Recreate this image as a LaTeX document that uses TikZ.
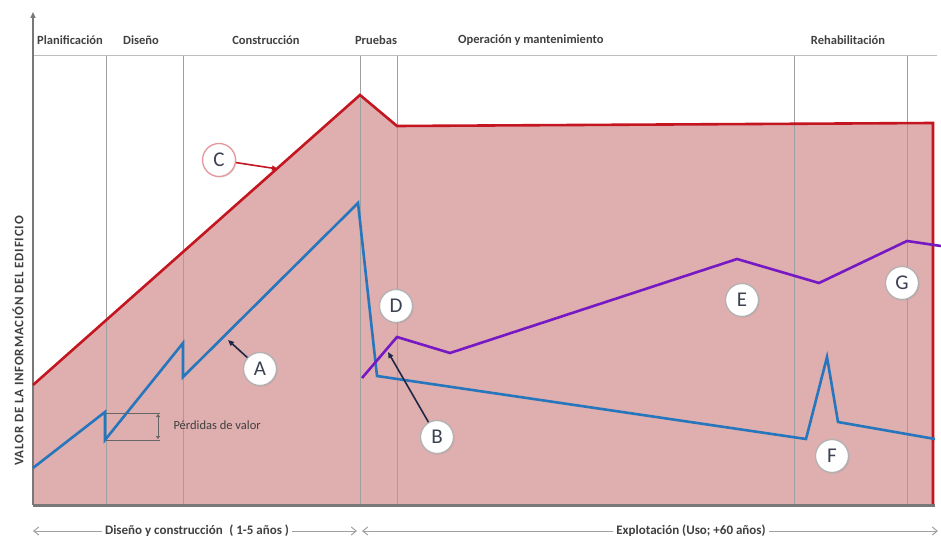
\documentclass[tikz,border=0pt]{standalone}
\usepackage{fontspec}
\setmainfont{Carlito}
\usetikzlibrary{arrows.meta,shadows}

\definecolor{areafill}{RGB}{223,174,174}
\definecolor{valred}{RGB}{196,22,32}
\definecolor{valblue}{RGB}{38,118,190}
\definecolor{valpurple}{RGB}{118,24,196}
\definecolor{gridgray}{RGB}{160,160,160}
\definecolor{axisgray}{RGB}{120,120,120}
\definecolor{labeltext}{RGB}{64,64,64}
\definecolor{calloutnavy}{RGB}{30,40,70}
\definecolor{lettertext}{RGB}{60,66,82}

\tikzset{
  phase/.style={font=\bfseries\fontsize{12.5}{14}\selectfont, text=labeltext, inner sep=0pt},
  separator/.style={draw=gridgray, line width=0.8pt},
  series/.style={line width=2.6pt, line join=miter},
  callout/.style={circle, draw=gray!60, line width=1.3pt, fill=white, minimum size=33pt,
    inner sep=0pt, font=\fontsize{21}{23}\selectfont, text=lettertext,
    drop shadow={opacity=0.25, shadow xshift=1pt, shadow yshift=-1pt}},
  pointer/.style={line width=1.6pt, -{Triangle[length=6pt,width=5pt]}},
  spanarrow/.style={draw=gridgray, line width=1pt, {Straight Barb[length=5pt,width=8pt]}-{Straight Barb[length=5pt,width=8pt]}},
  spantext/.style={font=\bfseries\fontsize{13}{15}\selectfont, text=labeltext, fill=white, inner sep=3pt}
}

\begin{document}
\begin{tikzpicture}[x=1pt,y=-1pt]
\useasboundingbox (0,0) rectangle (941,540);
\fill[white] (0,0) rectangle (941,540);

% shaded value area under the red curve
\fill[areafill] (33,385) -- (360,95) -- (397,126) -- (933,123) -- (933,504) -- (33,504) -- cycle;

% phase separators and top rule
\foreach \xx in {106,183,360,397,794,907}
  \draw[separator] (\xx,55) -- (\xx,504);
\draw[draw=gridgray!70, line width=0.8pt] (33,55) -- (937,55);

% axes
\draw[draw=axisgray, line width=3pt] (33,505) -- (935,505);
\draw[draw=axisgray, line width=1.4pt, -{Triangle[length=6pt,width=5pt]}] (33,505) -- (33,12);

% phase names
\node[phase, anchor=west] (plan) at (37,40) {Planificación};
\node[phase] (dis) at (141,40) {Diseño};
\node[phase] (cons) at (266,40) {Construcción};
\node[phase] (prue) at (376,40) {Pruebas};
\node[phase, anchor=west] (oper) at (458,40) {Operación y mantenimiento};
\node[phase] (rehab) at (848,40) {Rehabilitación};

% vertical axis title
\node[font=\bfseries\fontsize{13}{15}\selectfont\addfontfeatures{LetterSpace=6}, text=labeltext, rotate=90] (ytitle) at (18,341)
  {VALOR DE LA INFORMACIÓN DEL EDIFICIO};

% curve C (red)
\draw[series, draw=valred] (33,385) -- (360,95) -- (397,126) -- (933,123) -- (933,504);

% curve A/B/F (blue)
\draw[series, draw=valblue] (33,468) -- (105,412) -- (105,440) -- (183,343) -- (183,377)
  -- (358,203) -- (377,376) -- (806,439) -- (827,357) -- (838,422) -- (935,439);

% curve D/E/G (purple)
\draw[series, draw=valpurple] (362,378) -- (397,337) -- (450,353) -- (737,259)
  -- (819,283) -- (907,241) -- (941,246);

% value loss bracket
\draw[draw=labeltext!80, line width=0.7pt] (105,413) -- (160,413);
\draw[draw=labeltext!80, line width=0.7pt] (105,440) -- (160,440);
\draw[draw=labeltext!80, line width=0.8pt, {Triangle[length=3pt,width=4pt]}-{Triangle[length=3pt,width=4pt]}] (158,414) -- (158,439);
\node[font=\fontsize{12.5}{14}\selectfont, text=labeltext, anchor=west] (loss) at (170,425) {Pérdidas de valor};

% callout targets
\coordinate (tC) at (278,169);
\coordinate (tA) at (228,340);
\coordinate (tB) at (388,352);

% callout circles
\node[callout, draw=valred!45] (cC) at (219,160) {C};
\node[callout] (cA) at (260,369) {A};
\node[callout] (cD) at (396,306) {D};
\node[callout] (cB) at (437,437) {B};
\node[callout] (cE) at (742,300) {E};
\node[callout] (cF) at (832,456) {F};
\node[callout] (cG) at (902,283) {G};

\draw[pointer, draw=valred, fill=valred] (cC) -- (tC);
\draw[pointer, draw=calloutnavy, fill=calloutnavy] (cA) -- (tA);
\draw[pointer, draw=calloutnavy, fill=calloutnavy] (cB) -- (tB);

% time spans
\coordinate (s1) at (33,531);
\coordinate (s2) at (357,531);
\coordinate (s3) at (362,531);
\coordinate (s4) at (938,531);
\draw[spanarrow] (s1) -- (s2);
\draw[spanarrow] (s3) -- (s4);
\node[spantext] (span1) at (197,531) {Diseño y construcción\enspace( 1-5 años )};
\node[spantext] (span2) at (691,531) {Explotación (Uso; +60 años)};
\end{tikzpicture}
\end{document}
